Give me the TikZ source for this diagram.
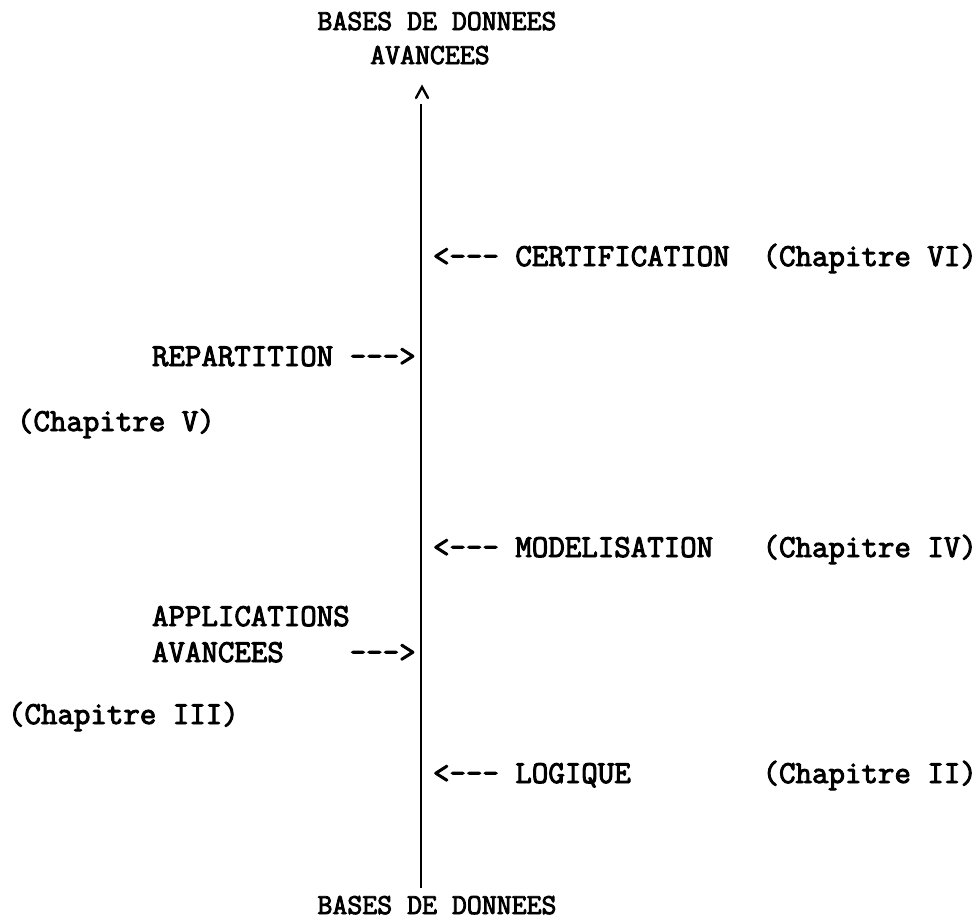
\documentclass[tikz,border=0pt]{standalone}
\usepackage{fontspec}
% typewriter face, thickened to the weight of a typed page
\newfontfamily\typew{Latin Modern Mono}[FakeBold=3]
% single hyphens kept apart so that no dash ligature is formed
\newcommand\dsh{\mbox{-}}
\newcommand\larr{<\dsh\dsh\dsh}
\newcommand\rarr{\dsh\dsh\dsh>}

\begin{document}
\begin{tikzpicture}[x=1pt,y=-1pt,
  every node/.style={font=\typew\fontsize{32}{37}\selectfont, inner sep=0pt, outer sep=0pt},
  lbl/.style={anchor=base west},
  ttl/.style={anchor=base, font=\typew\fontsize{29}{34}\selectfont},
  axis/.style={line width=2.6pt},
  caret/.style={line width=2.4pt, line cap=round, line join=miter}]
\useasboundingbox (0,0) rectangle (978,924);

% titles at both ends of the axis
\node[ttl] (top1) at (437,30) {BASES DE DONNEES};
\node[ttl] (top2) at (430,64) {AVANCEES};
\node[ttl] (bot)  at (437,914) {BASES DE DONNEES};

% the axis and its arrowhead
\coordinate (tip)  at (422,87);
\coordinate (head) at (421,104);
\coordinate (foot) at (421,888);
\draw[caret] ([shift={(-6,11)}]tip) -- (tip) -- ([shift={(6,11)}]tip);
\draw[axis] (head) -- (foot);

% contributions on the right
\node[lbl] (cert) at (433,266) {\larr\ CERTIFICATION~~(Chapitre VI)};
\node[lbl] (mod)  at (433,557) {\larr\ MODELISATION~~~(Chapitre IV)};
\node[lbl] (log)  at (433,783) {\larr\ LOGIQUE~~~~~~~~(Chapitre II)};

% contributions on the left
\node[lbl] (rep)   at (152,366) {REPARTITION \rarr};
\node[lbl] (repc)  at (17,431)  {(Chapitre V)};
\node[lbl] (app1)  at (152,626) {APPLICATIONS};
\node[lbl] (app2)  at (152,662) {AVANCEES~~~~\rarr};
\node[lbl] (appc)  at (8,724)   {(Chapitre III)};
\end{tikzpicture}
\end{document}
